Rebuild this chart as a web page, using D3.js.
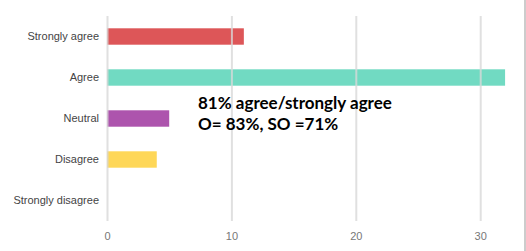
<!DOCTYPE html>
<html><head><meta charset="utf-8">
<script src="https://cdn.jsdelivr.net/npm/d3@7"></script>
<style>body{margin:0;background:#fff;}svg{display:block;}</style>
</head><body>
<svg id="c" width="526" height="251"></svg>
<script>
const categories = ["Strongly agree","Agree","Neutral","Disagree","Strongly disagree"];
const values = [11, 32, 5, 4, 0];
const colors = ["#db4d4f","#69d8bf","#a94ba9","#fed54f","#999999"];
const ticks = [0,10,20,30];
const annotation = ["81% agree/strongly agree","O= 83%, SO =71%"];

const svg = d3.select("#c");
const x = d3.scaleLinear().domain([0,10]).range([107,231.4]);
const y = d3.scaleBand().domain(categories).range([16,221]).paddingInner(0.6).paddingOuter(0.3);

svg.append("g").selectAll("rect").data(categories).join("rect")
  .attr("x", x(0)).attr("y", d=>y(d))
  .attr("width", (d,i)=>x(values[i])-x(0)).attr("height", y.bandwidth())
  .attr("fill", (d,i)=>colors[i]).attr("opacity",0.95);

const gx = svg.append("g").attr("transform","translate(0,221)")
  .call(d3.axisBottom(x).tickValues(ticks).tickSize(-205).tickFormat(d3.format("d")));
gx.select(".domain").remove();
gx.selectAll(".tick line").attr("stroke","#d8d8d8").attr("stroke-width",2).attr("opacity",0.8);
gx.selectAll(".tick text").attr("y",11).attr("fill","#777").attr("font-family","Liberation Sans, Arial, sans-serif").attr("font-size",11);

const gy = svg.append("g").attr("transform","translate(107,0)")
  .call(d3.axisLeft(y).tickSize(0).tickPadding(8));
gy.select(".domain").remove();
gy.selectAll(".tick text").attr("fill","#444").attr("font-family","Liberation Sans, Arial, sans-serif").attr("font-size",11);

svg.append("line").attr("x1",525).attr("x2",525).attr("y1",0).attr("y2",251).attr("stroke","#999").attr("stroke-width",1);

svg.append("g").selectAll("text").data(annotation).join("text")
  .attr("x",198).attr("y",(d,i)=>108.5+i*21.5)
  .attr("font-family","Lato, sans-serif").attr("font-weight","bold").attr("font-size",17)
  .attr("fill","#000").text(d=>d);
</script>
</body></html>
